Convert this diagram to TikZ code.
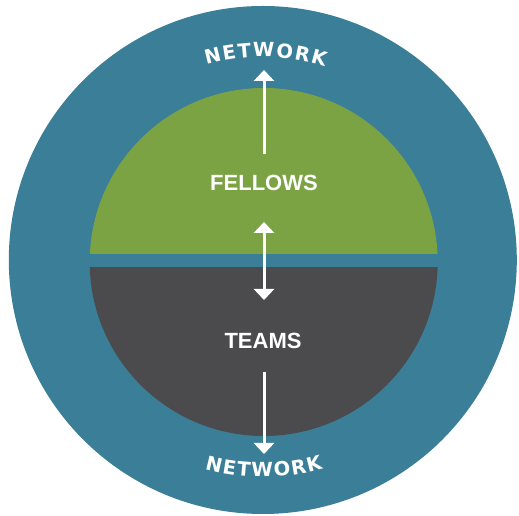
\documentclass[tikz,border=0pt]{standalone}
\usepackage{fontspec}
\setmainfont{Liberation Sans}
\newfontfamily\netfont{DejaVu Sans}
\usetikzlibrary{arrows.meta}
\definecolor{tealbg}{HTML}{3A7E98}
\definecolor{greenseg}{HTML}{7BA343}
\definecolor{darkseg}{HTML}{4B4B4D}
\tikzset{
  label/.style={text=white,font=\fontsize{22}{22}\selectfont\bfseries,inner sep=0pt},
  netletter/.style={text=white,font=\netfont\bfseries\fontsize{19.5}{19.5}\selectfont,inner sep=0pt,anchor=base},
  flow/.style={draw=white,line width=3pt,-{Triangle[length=11pt,width=20pt]}},
  flowboth/.style={draw=white,line width=3pt,{Triangle[length=11pt,width=20pt]}-{Triangle[length=11pt,width=20pt]}}
}
\begin{document}
\begin{tikzpicture}[x=1pt,y=1pt]
\useasboundingbox (0,0) rectangle (519,516);
\coordinate (oc) at (262.8,256);
\coordinate (ic) at (263.7,254);
% outer circle
\fill[tealbg] (oc) circle[radius=254];
% green upper segment
\begin{scope}
  \clip (0,262) rectangle (519,516);
  \fill[greenseg] (ic) circle[radius=174];
\end{scope}
% dark lower segment
\begin{scope}
  \clip (0,0) rectangle (519,248);
  \fill[darkseg] (ic) circle[radius=174];
\end{scope}
% labels
\node[label] (fellows) at (264,333.5) {FELLOWS};
\node[label] (teams) at (263,175.5) {TEAMS};
% curved NETWORK texts (letters placed along arcs)
\foreach \l/\s [count=\i] in {N/8.15,E/24.43,T/39.21,W/58.09,O/78.62,R/95.9,K/112.43}{
  \pgfmathsetmacro{\off}{(\s-60)/203*180/pi}
  \pgfmathsetmacro{\ang}{89.2-\off}
  \node[netletter,rotate=\ang-90] (nt\i) at ([shift={(\ang:203)}]oc) {\l};
  \pgfmathsetmacro{\offb}{(\s-60)/217*180/pi}
  \pgfmathsetmacro{\angb}{270.3+\offb}
  \node[netletter,rotate=\angb-270] (nb\i) at ([shift={(\angb:217)}]oc) {\l};
}
% arrow end points
\coordinate (topS) at (264,362);
\coordinate (topE) at (264,446);
\coordinate (midA) at (264,294);
\coordinate (midB) at (264,216);
\coordinate (botS) at (264,144);
\coordinate (botE) at (264,62);
\draw[flow] (topS) -- (topE);
\draw[flowboth] (midA) -- (midB);
\draw[flow] (botS) -- (botE);
\end{tikzpicture}
\end{document}
